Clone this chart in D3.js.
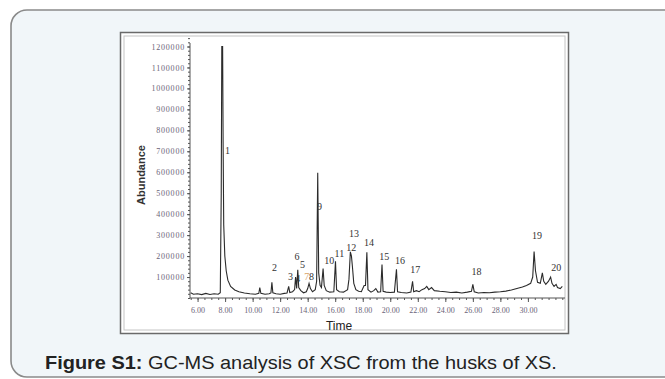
<!DOCTYPE html>
<meta charset="utf-8">
<style>
body { margin: 0; background: #fff; }
.trace { fill: none; stroke: #2b2b2b; stroke-width: 1.1px; }
.axis path, .axis line { stroke: #555; }
.axis text { font-family: "Liberation Serif", "DejaVu Serif", serif; fill: #6b6478; }
.peak { font-family: "Liberation Serif", serif; font-size: 10px; fill: #333; }
</style>
<body>
<script src="https://cdn.jsdelivr.net/npm/d3@7"></script>
<script>

// chromatogram trace (time in min, abundance)
var traceTime = [5.5, 5.7, 6.0, 6.3, 6.6, 6.9, 7.2, 7.5, 7.65, 7.72, 7.76, 7.82, 7.86, 7.9, 7.98, 8.08, 8.2, 8.4, 8.7, 9.0,
  9.4, 9.8, 10.2, 10.45, 10.52, 10.6, 10.9, 11.2, 11.33, 11.4, 11.47, 11.7, 12.0, 12.3, 12.5, 12.62, 12.7, 12.9, 13.05, 13.12,
  13.2, 13.28, 13.35, 13.5, 13.7, 13.9, 14.0, 14.1, 14.2, 14.35, 14.55, 14.65, 14.73, 14.8, 14.9, 15.0, 15.12, 15.2, 15.35, 15.6,
  15.9, 16.02, 16.1, 16.3, 16.6, 16.9, 17.0, 17.1, 17.18, 17.25, 17.35, 17.5, 17.7, 17.9, 18.1, 18.2, 18.3, 18.38, 18.6, 18.8,
  18.95, 19.1, 19.3, 19.4, 19.48, 19.7, 20.0, 20.3, 20.45, 20.53, 20.8, 21.2, 21.5, 21.62, 21.7, 21.9, 22.1, 22.3, 22.5, 22.65,
  22.8, 23.0, 23.2, 23.6, 24.0, 24.4, 24.8, 25.2, 25.6, 25.9, 26.0, 26.1, 26.4, 26.8, 27.2, 27.6, 28.0, 28.4, 28.8, 29.2,
  29.6, 29.9, 30.2, 30.35, 30.45, 30.55, 30.7, 30.9, 31.05, 31.15, 31.3, 31.5, 31.65, 31.75, 31.9, 32.05, 32.15, 32.35, 32.5];
var traceAbund = [25000, 18000, 20000, 16000, 22000, 17000, 20000, 18000, 25000, 500000, 1200000, 1200000, 700000, 350000, 200000, 130000, 85000, 55000, 38000, 30000,
  24000, 20000, 18000, 22000, 50000, 22000, 18000, 20000, 24000, 75000, 25000, 20000, 18000, 22000, 24000, 55000, 26000, 30000, 40000, 100000,
  45000, 135000, 50000, 35000, 25000, 30000, 45000, 70000, 45000, 30000, 40000, 80000, 597000, 120000, 60000, 50000, 140000, 60000, 35000, 28000,
  30000, 175000, 40000, 30000, 28000, 40000, 90000, 220000, 200000, 150000, 70000, 40000, 32000, 30000, 60000, 60000, 218000, 40000, 28000, 35000,
  45000, 28000, 30000, 160000, 32000, 28000, 26000, 28000, 137000, 30000, 26000, 24000, 28000, 80000, 30000, 35000, 30000, 40000, 45000, 55000,
  40000, 50000, 35000, 32000, 30000, 26000, 28000, 24000, 28000, 32000, 65000, 30000, 24000, 26000, 25000, 28000, 30000, 33000, 38000, 45000,
  52000, 60000, 70000, 100000, 222000, 130000, 75000, 70000, 120000, 80000, 65000, 80000, 100000, 70000, 55000, 65000, 50000, 45000, 55000];

// peak numbers and where their labels sit (time, abundance)
var peakNames = ["1", "2", "3", "4", "6", "5", "7", "8", "9", "10", "11", "12", "13", "14", "15", "16", "17", "18", "19", "20"];
var peakTime  = [8.0, 11.41, 12.57, 13.1, 13.05, 13.45, 13.75, 14.1, 14.68, 15.2, 15.95, 16.8, 17.0, 18.1, 19.2, 20.35, 21.45, 25.9, 30.3, 31.7];
var peakAbund = [685000, 128000, 85000, 78000, 180000, 145000, 85000, 85000, 420000, 160000, 195000, 225000, 290000, 250000, 180000, 160000, 120000, 110000, 280000, 130000];

var yTicks = d3.range(100000, 1200001, 100000);
var xTicks = d3.range(6, 31, 2);

var W = 665, H = 379;
var svg = d3.select("body").append("svg").attr("width", W).attr("height", H);

// card
svg.append("rect").attr("x", 11).attr("y", 10).attr("width", 720).attr("height", 367)
  .attr("rx", 16).attr("fill", "#f1f6f9").attr("stroke", "#8a8a8a").attr("stroke-width", 1.6);

// chart box (double border)
svg.append("rect").attr("x", 120.5).attr("y", 32.5).attr("width", 448).attr("height", 301)
  .attr("fill", "#fff").attr("stroke", "#6a6a6a").attr("stroke-width", 1.5);
svg.append("rect").attr("x", 124).attr("y", 36).attr("width", 441).attr("height", 294)
  .attr("fill", "none").attr("stroke", "#c4c4c4").attr("stroke-width", 1);

var x = d3.scaleLinear().domain([5.45, 32.55]).range([190, 563]);
var y = d3.scaleLinear().domain([0, 1200000]).range([298, 46.5]);

// minor ticks
svg.append("g").attr("class", "axis").attr("transform", "translate(190,0)")
  .call(d3.axisLeft(y).tickValues(d3.range(0, 1240001, 20000)).tickSize(2).tickFormat(""))
  .call(function(g) { g.select(".domain").remove(); });
svg.append("g").attr("class", "axis").attr("transform", "translate(0,298)")
  .call(d3.axisBottom(x).tickValues(d3.range(5.5, 32.6, 0.5)).tickSize(2).tickFormat(""))
  .call(function(g) { g.select(".domain").remove(); });

// main axes
var yAxis = svg.append("g").attr("class", "axis").attr("transform", "translate(190,0)")
  .call(d3.axisLeft(y).tickValues(yTicks).tickSize(3).tickPadding(2).tickFormat(d3.format("d")));
yAxis.select(".domain").attr("d", "M0,43V298");
yAxis.selectAll("text").style("font-size", "8px").style("letter-spacing", "0.8px");

var xAxis = svg.append("g").attr("class", "axis").attr("transform", "translate(0,298)")
  .call(d3.axisBottom(x).tickValues(xTicks).tickSize(4).tickPadding(5).tickFormat(d3.format(".2f")));
xAxis.select(".domain").attr("d", "M190,0H565");
xAxis.selectAll("text").style("font-size", "8px");

// trace
var pts = traceTime.map(function(t, i) { return [t, traceAbund[i]]; });
svg.append("path").datum(pts).attr("class", "trace")
  .attr("d", d3.line().x(function(d) { return x(d[0]); }).y(function(d) { return y(d[1]); }));

// peak labels
svg.selectAll(".peak").data(peakNames).enter().append("text")
  .attr("class", "peak")
  .attr("x", function(d, i) { return x(peakTime[i]); })
  .attr("y", function(d, i) { return y(peakAbund[i]); })
  .style("fill", function(d) { return d === "7" ? "#d9a46a" : "#333"; })
  .text(function(d) { return d; });

// axis titles
svg.append("text").attr("transform", "translate(145,175) rotate(-90)")
  .attr("text-anchor", "middle").style("font-family", "Liberation Sans, Arial, sans-serif")
  .style("font-size", "11px").style("font-weight", "bold").style("fill", "#333").text("Abundance");
svg.append("text").attr("x", 339).attr("y", 330).attr("text-anchor", "middle")
  .style("font-family", "Liberation Sans, Arial, sans-serif").style("font-size", "12px")
  .style("fill", "#222").text("Time");

// caption
var cap = svg.append("text").attr("transform", "translate(45,369) scale(1.05,1)")
  .style("font-family", "Liberation Sans, Arial, sans-serif").style("font-size", "19px").style("fill", "#222");
cap.append("tspan").style("font-weight", "bold").text("Figure S1:");
cap.append("tspan").text(" GC-MS analysis of XSC from the husks of XS.");

</script>
</body>
